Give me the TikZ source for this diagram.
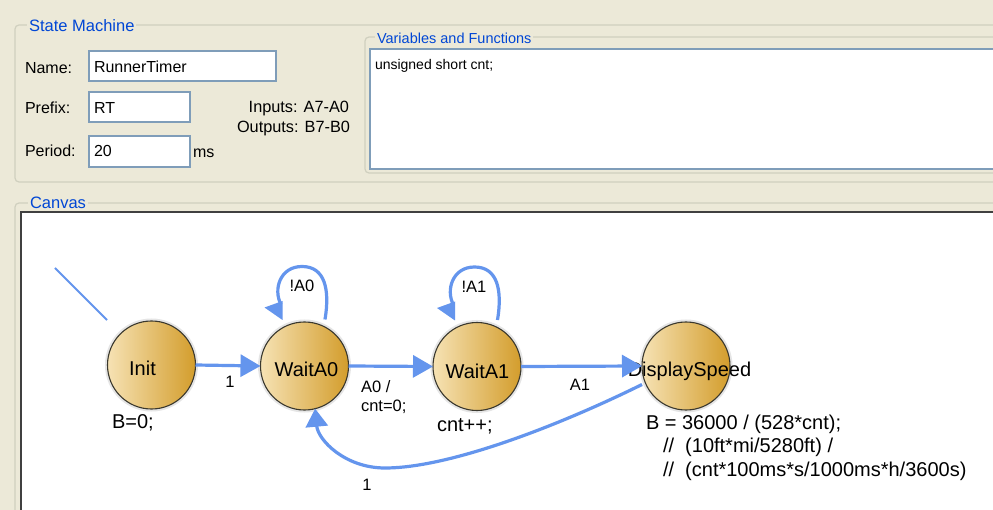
\documentclass[tikz,border=0pt]{standalone}
\usepackage{fontspec}
\setmainfont{Liberation Sans}
\usetikzlibrary{arrows.meta}

\definecolor{panelbg}{HTML}{ECE9D8}
\definecolor{groupline}{HTML}{D0D0BF}
\definecolor{boxline}{HTML}{7F9DB9}
\definecolor{titleblue}{HTML}{0046D5}
\definecolor{wireblue}{HTML}{6495ED}
\definecolor{goldlight}{HTML}{F6E2B4}
\definecolor{golddark}{HTML}{D39D2C}
\definecolor{ringline}{HTML}{3A382E}
\definecolor{canvasedge}{HTML}{404040}

\begin{document}
\begin{tikzpicture}[x=1pt,y=-1pt,
  every node/.style={inner sep=0pt, outer sep=0pt},
  paneltext/.style={font=\fontsize{16}{19}\selectfont, anchor=base west},
  grouptitle/.style={font=\fontsize{16.5}{19}\selectfont, text=titleblue, fill=panelbg,
    inner xsep=2pt, inner ysep=1pt, anchor=base west},
  textbox/.style={draw=boxline, line width=1.2pt, fill=white, anchor=north west},
  groupframe/.style={draw=groupline, line width=1.2pt, rounded corners=4pt},
  statecircle/.style={circle, minimum size=88pt, left color=goldlight, right color=golddark,
    preaction={draw=black!10, line width=5pt}},
  ringdraw/.style={draw=ringline, line width=1.1pt},
  statename/.style={font=\fontsize{20}{24}\selectfont, anchor=base},
  actiontext/.style={font=\fontsize{20}{24}\selectfont, anchor=base west},
  guardtext/.style={font=\fontsize{16.5}{19}\selectfont, anchor=base},
  wireline/.style={draw=wireblue, line width=3.2pt},
  headtip/.style={-{Triangle[length=20pt,width=22pt]}},
]
\useasboundingbox (0,0) rectangle (993,510);
\clip (0,0) rectangle (993,510);
\fill[panelbg] (0,0) rectangle (993,510);

% ---------- State Machine group ----------
\draw[groupframe] (1010,25) -- (15,25) -- (15,182) -- (1010,182);
\node[grouptitle] (smtitle) at (27,32) {State Machine};

\node[paneltext] (namelbl)   at (25,74)  {Name:};
\node[paneltext] (prefixlbl) at (25,114) {Prefix:};
\node[paneltext] (periodlbl) at (25,157) {Period:};

\node[textbox, minimum width=187pt, minimum height=30pt] (namebox)   at (89,51)  {};
\node[textbox, minimum width=101pt, minimum height=30pt] (prefixbox) at (89,92)  {};
\node[textbox, minimum width=101pt, minimum height=31pt] (periodbox) at (89,136) {};

\node[paneltext] (nameval)   at (94,73)  {RunnerTimer};
\node[paneltext] (prefixval) at (94,114) {RT};
\node[paneltext] (periodval) at (94,157) {20};
\node[paneltext] (msunit)    at (193,158) {ms};

\node[paneltext, anchor=base east, font=\fontsize{16.3}{19}\selectfont] (inputs)  at (349,113) {Inputs: A7-A0};
\node[paneltext, anchor=base east, font=\fontsize{16.3}{19}\selectfont] (outputs) at (350,133) {Outputs: B7-B0};

% ---------- Variables and Functions group ----------
\draw[groupframe] (1010,37) -- (365,37) -- (365,173) -- (1010,173);
\node[grouptitle, font=\fontsize{14.5}{17}\selectfont] (vftitle) at (375,44) {Variables and Functions};
\node[textbox, minimum width=640pt, minimum height=120pt] (vfbox) at (370,49) {};
\node[paneltext, font=\fontsize{14}{17}\selectfont] (vftext) at (375,70) {unsigned short cnt;};

% ---------- Canvas group ----------
\draw[groupframe] (1010,203) -- (15,203) -- (15,530);
\node[grouptitle] (cvtitle) at (28,209) {Canvas};
\fill[white] (21,212) rectangle (1010,530);
\draw[canvasedge, line width=1.6pt] (21,530) -- (21,212) -- (1010,212);

% ---------- states ----------
\node[statecircle] (init) at (151.5,365) {};
\node[statecircle] (w0)   at (304.5,366) {};
\node[statecircle] (w1)   at (477,366.5) {};
\node[statecircle] (ds)   at (686,366) {};

\node[statename] (initname) at (142.5,375) {Init};
\node[statename] (w0name)   at (306.5,377) {WaitA0};
\node[statename] (w1name)   at (477.5,378) {WaitA1};
\node[statename] (dsname)   at (689.5,377) {DisplaySpeed};

\foreach \s in {init,w0,w1,ds}
  \draw[ringdraw] (\s.center) circle[radius=44pt];

% state actions
\node[actiontext] (initact) at (112,428) {B=0;};
\node[actiontext] (w1act)   at (437,431) {cnt++;};
\node[actiontext] (dsact1)  at (646,429) {B = 36000 / (528*cnt);};
\node[actiontext] (dsact2)  at (663,452) {//\ \ (10ft*mi/5280ft) /};
\node[actiontext] (dsact3)  at (663,476) {//\ \ (cnt*100ms*s/1000ms*h/3600s)};

% ---------- transitions ----------
\coordinate (entry) at (55,268);
\draw[wireline, line width=2pt] (entry) -- ([shift={(-44.5,-45)}]init.center);

\draw[wireline, headtip] (init.east) -- (w0.west);
\draw[wireline, headtip] (w0.east) -- (w1.west);
\draw[wireline, headtip] (w1.east) -- (ds.west);

% self loops on the waiting states
\foreach \s in {w0,w1} {
  \draw[wireline] ([shift={(20.5,-46.5)}]\s.center)
      .. controls +(5,-30) and +(23,0) .. ([shift={(-2.5,-99.5)}]\s.center)
      .. controls +(-22,0) and +(-8,-15) .. ([shift={(-23.5,-61.5)}]\s.center);
  \fill[wireblue] ([shift={(-40,-58.5)}]\s.center) -- ([shift={(-22,-65)}]\s.center)
      -- ([shift={(-22,-46)}]\s.center) -- cycle;
}

% return from DisplaySpeed to WaitA0
\coordinate (retlow) at (385,468);
\draw[wireline, -{Triangle[length=18pt,width=22pt]}] ([shift={(-44,18.5)}]ds.center)
    .. controls (560,425) and (450,468) .. (retlow)
    .. controls (345,468) and (318,440) .. (w0.284);

% transition labels
\node[guardtext] (g1)  at (230,388) {1};
\node[guardtext, anchor=base west] (g2a) at (361,392) {A0 /};
\node[guardtext, anchor=base west] (g2b) at (361,411) {cnt=0;};
\node[guardtext] (g3)  at (580,390) {A1};
\node[guardtext] (g4)  at (302,292) {!A0};
\node[guardtext] (g5)  at (474,293) {!A1};
\node[guardtext] (g6)  at (367,490) {1};
\end{tikzpicture}
\end{document}
